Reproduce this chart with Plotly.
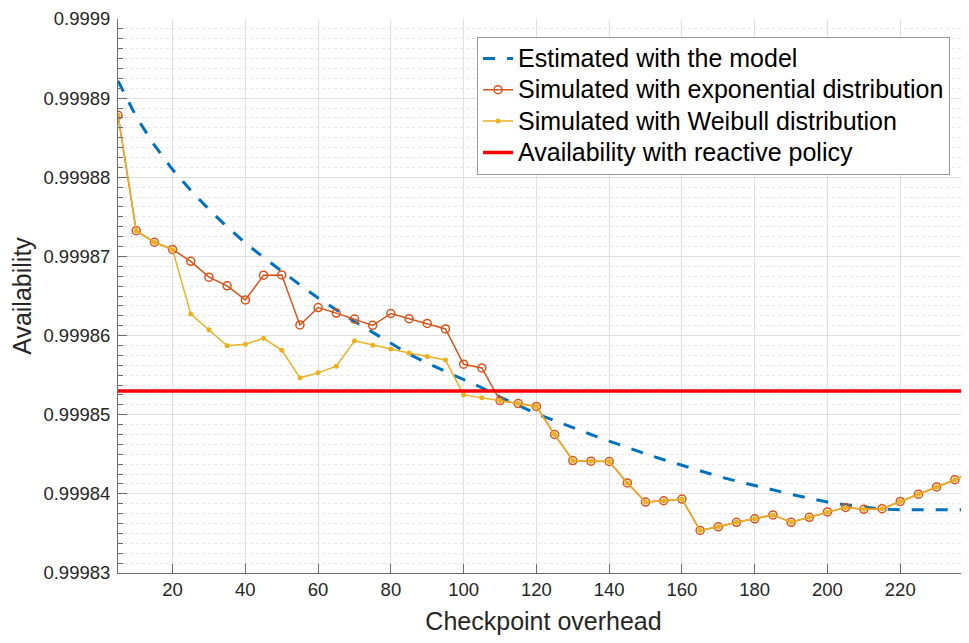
import plotly.graph_objects as go

checkpoint = [5, 10, 15, 20, 25, 30, 35, 40, 45, 50, 55, 60, 65, 70, 75, 80,
              85, 90, 95, 100, 105, 110, 115, 120, 125, 130, 135, 140, 145, 150,
              155, 160, 165, 170, 175, 180, 185, 190, 195, 200, 205, 210, 215,
              220, 225, 230, 235, 240]

model = [0.99989219, 0.99988765, 0.99988406, 0.99988098, 0.99987834, 0.99987594,
         0.99987373, 0.99987170, 0.99986988, 0.99986811, 0.99986641, 0.99986474,
         0.99986321, 0.99986178, 0.99986040, 0.99985900, 0.99985766, 0.99985651,
         0.99985549, 0.99985448, 0.99985341, 0.99985223, 0.99985114, 0.99985014,
         0.99984925, 0.99984835, 0.99984750, 0.99984666, 0.99984584, 0.99984506,
         0.99984431, 0.99984358, 0.99984288, 0.99984221, 0.99984161, 0.99984103,
         0.99984048, 0.99983995, 0.99983944, 0.99983896, 0.99983863, 0.99983831,
         0.99983806, 0.99983800, 0.99983800, 0.99983800, 0.99983800, 0.99983800]

sim_exponential = [0.99988784, 0.99987325, 0.99987179, 0.99987088, 0.99986938, 0.99986738,
                   0.99986629, 0.99986450, 0.99986763, 0.99986766, 0.99986134, 0.99986354,
                   0.99986284, 0.99986209, 0.99986129, 0.99986279, 0.99986213, 0.99986154,
                   0.99986084, 0.99985638, 0.99985591, 0.99985179, 0.99985141, 0.99985104,
                   0.99984750, 0.99984421, 0.99984413, 0.99984409, 0.99984138, 0.99983896,
                   0.99983913, 0.99983934, 0.99983538, 0.99983584, 0.99983641, 0.99983684,
                   0.99983734, 0.99983641, 0.99983704, 0.99983771, 0.99983829, 0.99983804,
                   0.99983813, 0.99983904, 0.99983996, 0.99984088, 0.99984179, 0.99984285]

sim_weibull = [0.99988784, 0.99987325, 0.99987179, 0.99987088, 0.99986271, 0.99986075,
               0.99985871, 0.99985891, 0.99985966, 0.99985816, 0.99985466, 0.99985529,
               0.99985613, 0.99985934, 0.99985879, 0.99985829, 0.99985779, 0.99985734,
               0.99985691, 0.99985250, 0.99985213, 0.99985179, 0.99985141, 0.99985104,
               0.99984750, 0.99984421, 0.99984413, 0.99984409, 0.99984138, 0.99983896,
               0.99983913, 0.99983934, 0.99983538, 0.99983584, 0.99983641, 0.99983684,
               0.99983734, 0.99983641, 0.99983704, 0.99983771, 0.99983829, 0.99983804,
               0.99983813, 0.99983904, 0.99983996, 0.99984088, 0.99984179, 0.99984285]

reactive_availability = 0.999853

series_names = ["Estimated with the model",
                "Simulated with exponential distribution",
                "Simulated with Weibull distribution",
                "Availability with reactive policy"]

x_tick_values = [20, 40, 60, 80, 100, 120, 140, 160, 180, 200, 220]
y_tick_values = [0.99983, 0.99984, 0.99985, 0.99986, 0.99987, 0.99988, 0.99989, 0.9999]
y_tick_labels = ["0.99983", "0.99984", "0.99985", "0.99986", "0.99987", "0.99988",
                 "0.99989", "0.9999"]

FONT = "Liberation Sans, Arial, Helvetica, sans-serif"
AXIS_COLOR = "#6b6b6b"


def legend_label(text):
    return '<span style="font-size:25px">' + text + "</span>"


fig = go.Figure()
fig.add_trace(go.Scatter(
    x=checkpoint, y=model, mode="lines", name=legend_label(series_names[0]),
    line=dict(color="#0072BD", width=3, dash="12px,12px")))
fig.add_trace(go.Scatter(
    x=checkpoint, y=sim_exponential, mode="lines+markers",
    name=legend_label(series_names[1]),
    line=dict(color="#D95319", width=1.5),
    marker=dict(symbol="circle-open", size=8, color="#D95319", line=dict(width=1.5))))
fig.add_trace(go.Scatter(
    x=checkpoint, y=sim_weibull, mode="lines+markers",
    name=legend_label(series_names[2]),
    line=dict(color="#EDB120", width=1.5),
    marker=dict(symbol="circle", size=5, color="#EDB120")))
fig.add_trace(go.Scatter(
    x=checkpoint, y=[reactive_availability] * len(checkpoint), mode="lines",
    name=legend_label(series_names[3]),
    line=dict(color="#FF0000", width=3.5)))

fig.update_layout(
    width=961, height=627,
    margin=dict(l=110, r=0, t=7, b=60),
    plot_bgcolor="white", paper_bgcolor="white",
    font=dict(family=FONT, color="#262626"),
    showlegend=True,
    legend=dict(
        x=0.4219, y=0.968, xanchor="left", yanchor="top",
        bgcolor="white", bordercolor="#999999", borderwidth=1,
        font=dict(family=FONT, size=21.8, color="black"),
        tracegroupgap=0, itemwidth=30,
    ),
    xaxis=dict(
        range=[5, 238.9], tickmode="array", tickvals=x_tick_values,
        showgrid=True, gridcolor="#e0e0e0", gridwidth=1,
        showline=True, linecolor=AXIS_COLOR, linewidth=1,
        ticks="inside", ticklen=9, tickcolor=AXIS_COLOR,
        tickfont=dict(size=18.5, color="#262626"),
        ticklabeloverflow="allow",
        zeroline=False,
        title=dict(text="Checkpoint overhead", font=dict(size=25, color="#262626"), standoff=17),
    ),
    yaxis=dict(
        range=[0.99983, 0.9999], tickmode="array", tickvals=y_tick_values,
        ticktext=y_tick_labels,
        showgrid=True, gridcolor="#e0e0e0", gridwidth=1,
        showline=True, linecolor=AXIS_COLOR, linewidth=1,
        ticks="inside", ticklen=9, tickcolor=AXIS_COLOR,
        tickfont=dict(size=18.5, color="#262626"),
        ticklabelstandoff=3,
        ticklabeloverflow="allow",
        zeroline=False,
        minor=dict(tickmode="linear", tick0=0.99983, dtick=0.00000125,
                   ticks="inside", ticklen=5, tickcolor=AXIS_COLOR,
                   showgrid=True, gridcolor="#e4e4e4", griddash="dot", gridwidth=1),
        title=dict(text="Availability", font=dict(size=25, color="#262626"), standoff=10),
    ),
)

fig.write_html("out.html")
